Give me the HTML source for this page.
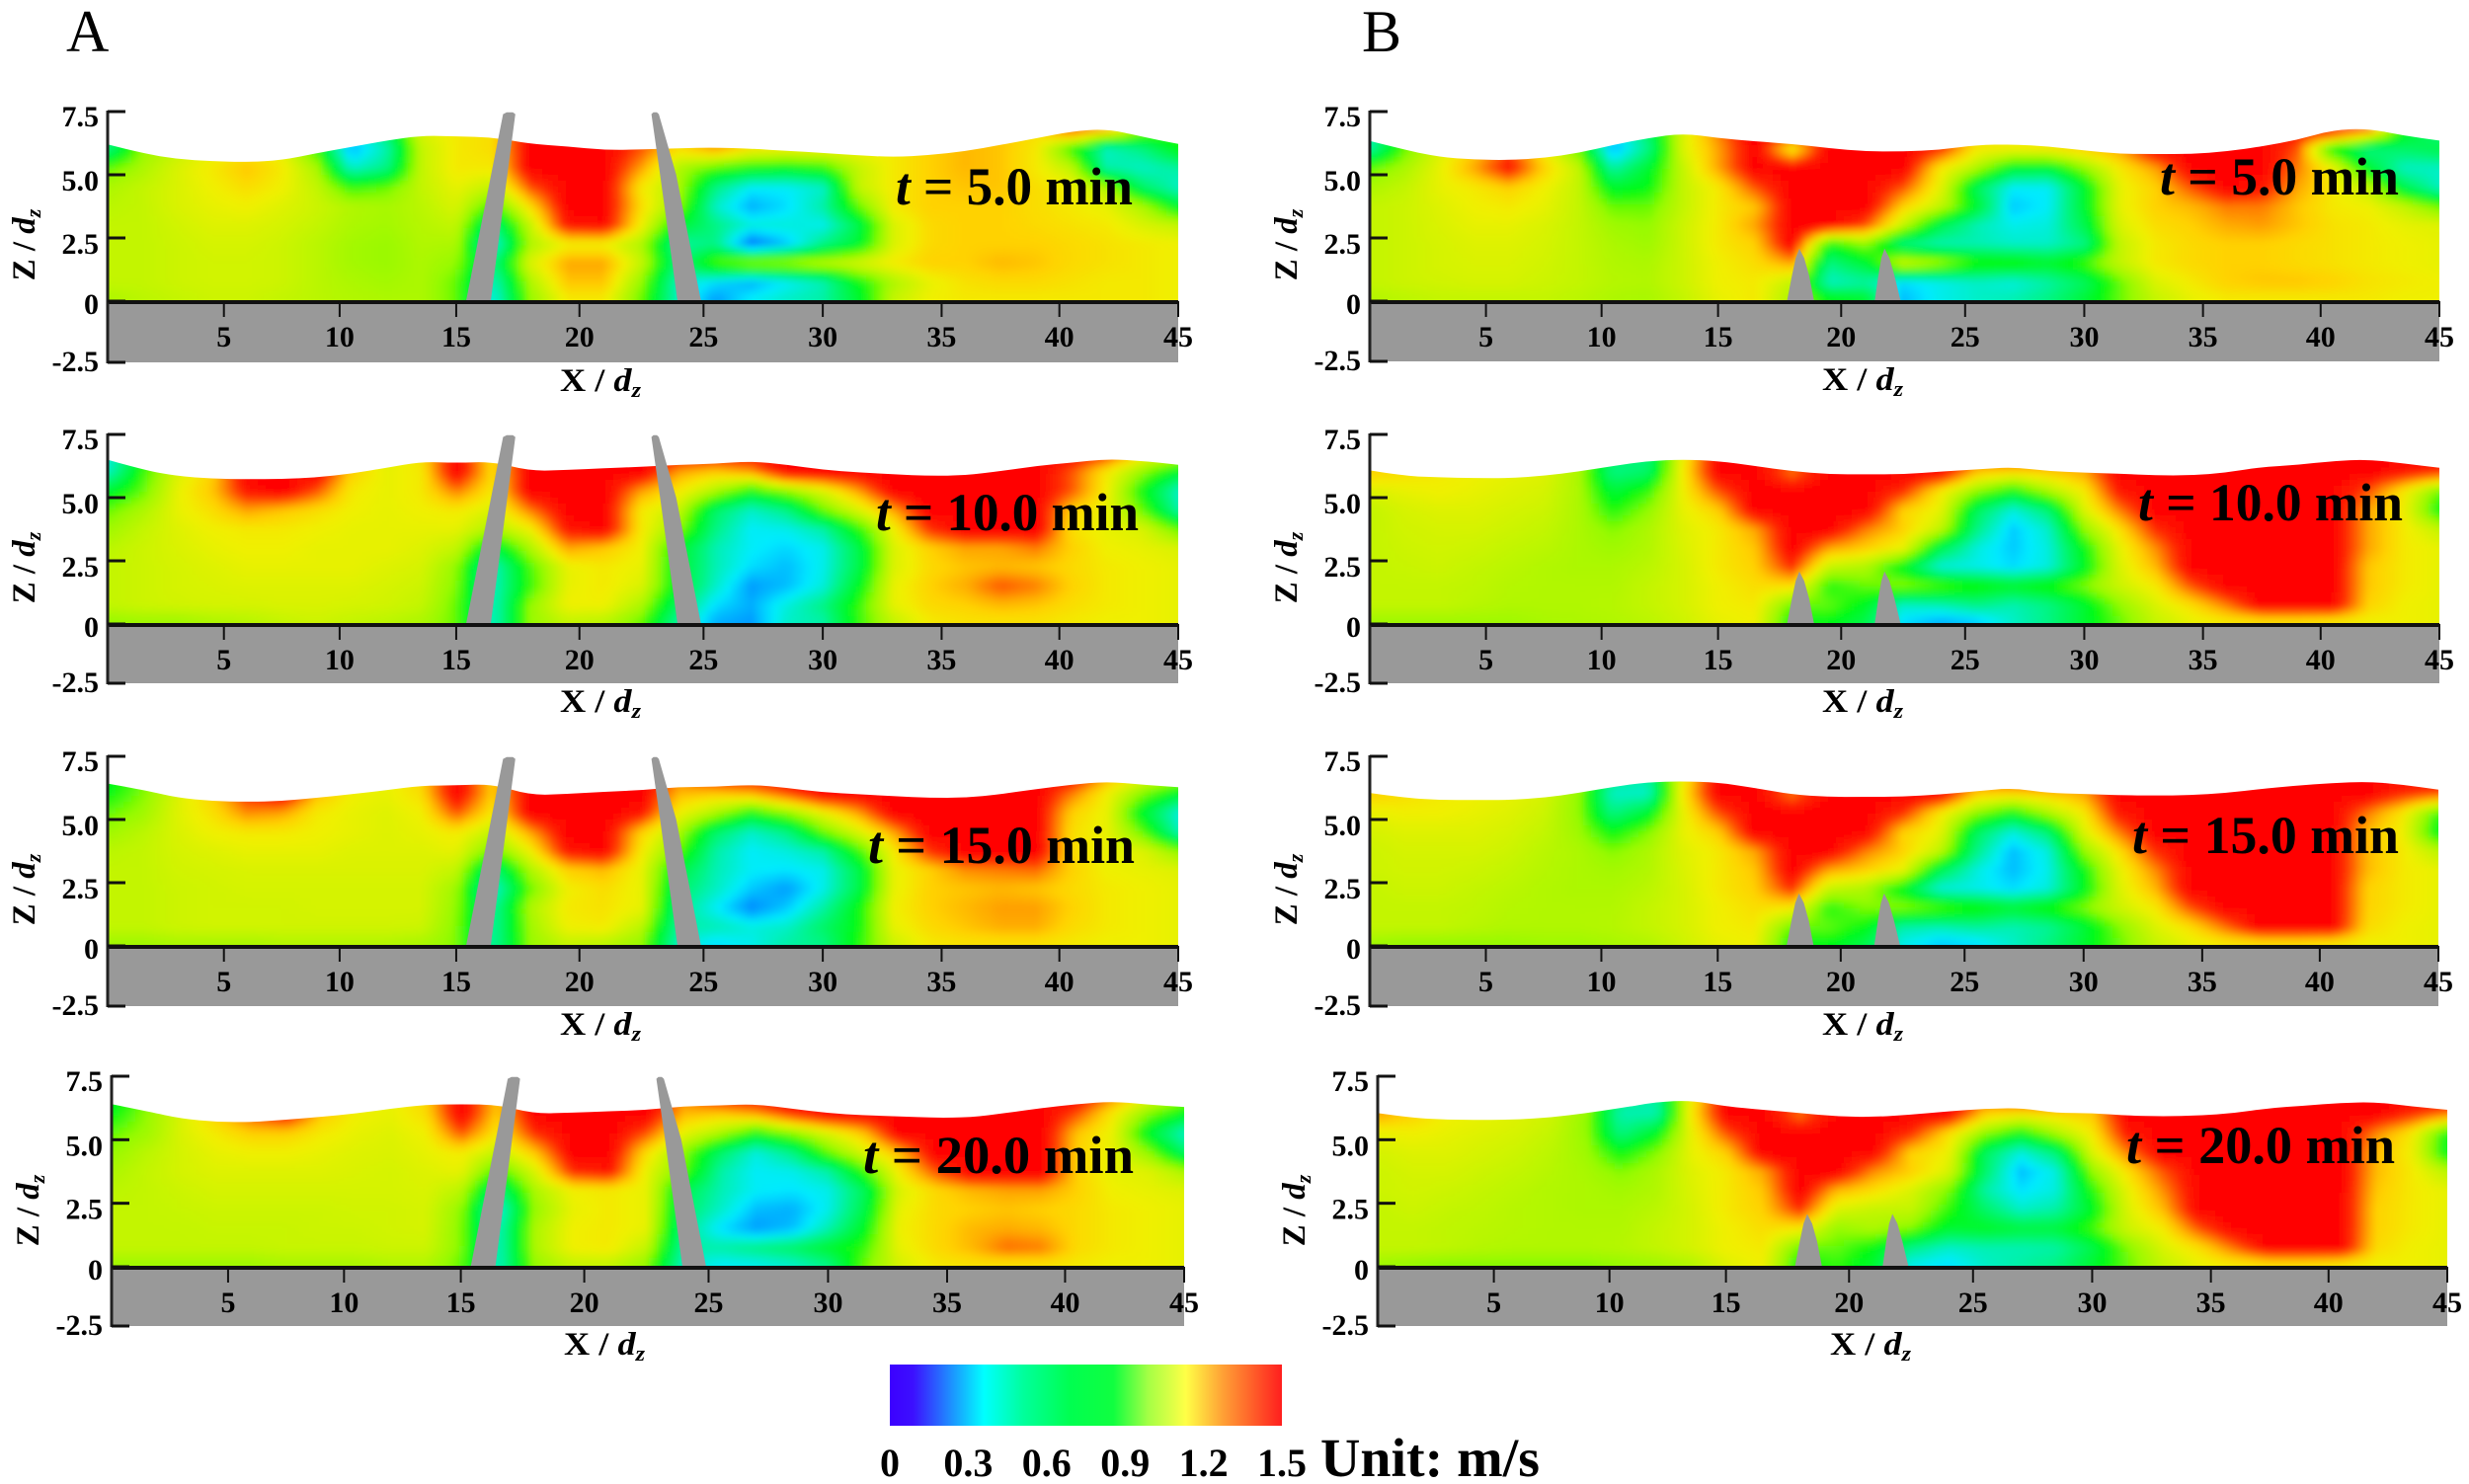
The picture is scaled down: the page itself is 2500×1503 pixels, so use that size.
<!DOCTYPE html>
<html lang="en">
<head>
<meta charset="utf-8">
<title>Velocity field panels</title>
<style>
html,body{margin:0;padding:0;background:#fff;}
svg{display:block;}
text{font-family:"Liberation Serif",serif;fill:#000;}
.tick{font-weight:bold;font-size:30px;}
.title{font-weight:bold;font-size:33px;}
</style>
</head>
<body>
<svg id="figure" xmlns="http://www.w3.org/2000/svg" width="2500" height="1503" viewBox="0 0 2500 1503">
<defs>
<linearGradient id="barGradient">
<stop offset="0" stop-color="#3c00ff"/><stop offset="0.06" stop-color="#3c10ff"/><stop offset="0.12" stop-color="#2a60ff"/><stop offset="0.24" stop-color="#00ffff"/><stop offset="0.34" stop-color="#00ff9c"/><stop offset="0.46" stop-color="#00ff50"/><stop offset="0.57" stop-color="#10ff40"/><stop offset="0.66" stop-color="#a6ff45"/><stop offset="0.755" stop-color="#ffff46"/><stop offset="0.85" stop-color="#ffa035"/><stop offset="1" stop-color="#ff1e1e"/>
</linearGradient>
<filter id="fieldBlur" x="-5%" y="-10%" width="110%" height="120%"><feGaussianBlur stdDeviation="3.5"/></filter>
</defs>
<text x="67" y="52" font-size="60">A</text>
<text x="1379" y="52" font-size="60">B</text>
<rect x="901" y="1382" width="397" height="62" fill="url(#barGradient)"/>
<text x="1337" y="1495" font-size="55" font-weight="bold" textLength="222" lengthAdjust="spacingAndGlyphs">Unit: m/s</text>
</svg>
<script>
const xColumns=[0,1.5,3,4.5,6,7.5,9,10.5,12,13.5,15,16.5,18,19.5,21,22.5,24,25.5,27,28.5,30,31.5,33,34.5,36,37.5,39,40.5,42,43.5,45];
const zRows=[6.75,6,5.25,4.5,3.75,3,2.25,1.5,0.75,0.1];
const xTickValues=[0,5,10,15,20,25,30,35,40,45];
const xTickFractions=[0,0.1086,0.2167,0.3256,0.4407,0.5566,0.668,0.779,0.889,1];
const zTickValues=[7.5,5,2.5,0,-2.5];
const zTickLabels=["7.5","5.0","2.5","0","-2.5"];
const barTickLabels=["0","0.3","0.6","0.9","1.2","1.5"];
const colorStopValues=[0,20,37,55,75,90,110,118,125,140,150];
const colorStopColors=[[0,0,255],[0,120,255],[0,235,255],[0,245,130],[0,250,20],[150,250,0],[240,240,0],[255,210,0],[255,165,0],[255,40,0],[255,0,0]];

const surfaceA1=[6.2,5.85,5.62,5.53,5.5,5.58,5.85,6.1,6.35,6.55,6.52,6.48,6.22,6.12,5.98,6,6.05,6.08,6.03,5.95,5.86,5.77,5.7,5.78,5.93,6.18,6.44,6.72,6.82,6.5,6.22];
const surfaceA2=[6.5,6.1,5.85,5.75,5.73,5.73,5.8,5.95,6.18,6.42,6.38,6.42,6.05,6.1,6.16,6.22,6.3,6.34,6.44,6.3,6.1,6,5.92,5.86,5.88,6.05,6.25,6.38,6.53,6.45,6.3];
const surfaceA3=[6.42,6.18,5.86,5.73,5.7,5.73,5.86,6,6.16,6.34,6.35,6.4,5.96,6.01,6.1,6.16,6.29,6.29,6.38,6.25,6.08,6,5.92,5.86,5.86,6,6.2,6.38,6.5,6.38,6.28];
const surfaceA4=[6.4,6.12,5.83,5.7,5.69,5.79,5.9,6.03,6.22,6.38,6.4,6.38,6.02,6.07,6.12,6.17,6.32,6.35,6.4,6.22,6.05,5.96,5.92,5.86,5.88,6.05,6.25,6.4,6.51,6.38,6.29];
const surfaceB1=[6.34,5.99,5.7,5.6,5.58,5.66,5.86,6.18,6.45,6.64,6.45,6.32,6.22,6.05,5.92,5.92,5.99,6.18,6.2,6.12,5.96,5.83,5.82,5.82,5.92,6.12,6.38,6.77,6.83,6.55,6.35];
const surfaceB2=[6.08,5.86,5.8,5.77,5.77,5.86,6.03,6.25,6.45,6.51,6.45,6.25,6.05,5.92,5.92,5.92,6.03,6.12,6.21,6.05,5.99,5.95,5.88,5.88,5.99,6.21,6.29,6.45,6.51,6.35,6.18];
const surfaceB3=[6.05,5.86,5.77,5.77,5.77,5.86,6.05,6.29,6.48,6.51,6.47,6.25,5.99,5.89,5.9,5.9,5.99,6.12,6.25,6.05,6.01,5.96,5.95,5.96,6.05,6.21,6.34,6.44,6.5,6.38,6.18];
const surfaceB4=[6.05,5.86,5.79,5.78,5.79,5.88,6.05,6.25,6.48,6.55,6.31,6.18,6.05,5.92,5.89,5.99,6.12,6.22,6.25,6.05,6.05,5.95,5.92,5.95,6.05,6.25,6.34,6.45,6.48,6.31,6.18];

const fieldA1=[
[55,90,100,110,112,105,85,40,60,105,112,115,150,150,150,130,115,130,120,112,110,110,112,118,120,120,115,135,120,90,80],
[55,90,100,108,112,108,80,28,48,100,112,115,150,150,150,135,115,125,112,110,110,110,112,118,122,120,112,80,45,55,75],
[85,95,105,112,120,112,95,45,55,100,112,112,150,150,150,125,95,82,75,72,78,100,112,118,122,120,112,100,50,45,50],
[95,100,105,110,115,110,100,80,85,100,108,100,135,150,150,112,95,55,38,38,45,100,112,118,120,120,115,110,95,60,45],
[98,100,105,108,110,106,102,96,94,98,105,80,115,150,150,115,90,45,28,35,50,85,112,118,118,118,115,112,108,95,70],
[100,100,103,106,106,104,100,95,93,97,100,55,100,145,148,110,70,55,42,42,40,65,105,116,118,118,116,114,112,105,100],
[100,100,102,104,104,102,98,93,91,96,95,40,95,110,110,95,50,55,18,32,55,70,105,116,118,118,118,116,114,112,110],
[100,100,102,103,103,102,98,93,91,95,90,55,105,125,125,100,55,85,95,95,100,105,112,118,118,122,120,116,114,112,110],
[100,100,102,103,103,102,98,95,93,95,85,45,95,120,120,90,45,35,28,38,48,75,95,108,114,116,116,114,112,112,110],
[95,98,100,102,102,100,98,96,95,95,85,40,90,112,112,85,45,25,38,45,50,70,100,110,112,112,112,112,112,112,110]];
const fieldA2=[
[40,70,100,115,150,150,150,120,105,115,150,115,150,150,150,150,150,150,150,150,150,150,150,150,150,150,150,150,140,115,105],
[45,80,105,118,150,150,150,118,108,112,150,115,150,150,150,150,125,118,125,150,150,150,150,150,150,150,150,135,112,90,70],
[70,85,108,120,145,150,135,112,108,112,130,112,150,150,150,125,112,95,75,90,105,125,150,150,150,150,150,135,110,75,45],
[85,95,108,115,125,120,115,110,108,110,112,105,130,150,150,112,100,60,45,55,85,105,125,150,150,150,150,118,108,85,50],
[92,100,106,110,112,112,110,108,108,108,108,95,110,145,150,112,90,55,38,40,50,78,110,140,150,150,150,115,108,105,85],
[98,102,105,108,110,110,108,108,108,106,100,65,95,125,120,110,72,48,38,34,40,65,105,118,125,125,130,118,110,108,105],
[100,102,104,106,108,108,108,108,106,104,90,45,82,108,112,108,70,48,35,30,40,65,105,116,120,122,120,116,112,110,108],
[100,102,104,105,106,106,106,106,104,102,88,45,80,108,112,105,70,45,25,30,42,72,108,118,124,135,130,118,112,110,108],
[100,102,103,104,104,105,105,104,103,100,85,45,90,110,110,95,60,35,28,42,55,80,108,116,118,122,120,115,112,110,108],
[90,92,92,95,97,100,102,100,98,95,85,45,90,100,98,85,50,28,25,45,50,80,100,112,114,114,114,112,110,110,108]];
const fieldA3=[
[70,85,100,112,135,150,125,110,108,118,150,118,150,150,150,150,130,150,150,150,150,150,150,150,150,150,150,150,125,110,100],
[75,88,105,118,140,150,122,110,108,115,150,118,150,150,150,150,122,118,122,135,150,150,150,150,150,150,150,130,110,88,70],
[85,92,106,114,128,125,112,108,106,110,135,112,150,150,150,145,110,95,75,90,108,125,150,150,150,150,150,118,108,70,42],
[92,98,105,110,112,112,110,108,106,108,112,100,125,150,150,118,95,60,45,55,85,105,125,150,150,150,150,115,108,85,48],
[98,100,104,106,108,108,108,106,106,106,108,85,110,145,150,112,85,50,38,42,50,80,112,140,150,150,150,116,108,106,90],
[100,100,103,104,105,105,105,105,105,105,100,55,95,118,122,108,68,48,38,36,40,65,108,118,128,130,132,118,110,108,106],
[100,100,102,103,104,104,104,104,104,104,92,42,85,110,115,108,60,46,32,25,40,65,108,118,120,122,120,116,112,110,108],
[100,100,102,103,103,103,104,104,104,104,90,50,95,112,114,108,55,38,22,32,50,75,110,118,122,126,126,118,112,110,108],
[100,100,102,103,103,103,103,103,103,102,88,50,92,110,112,98,50,48,42,45,60,75,108,116,120,124,124,116,112,110,108],
[92,92,94,94,94,96,96,96,96,94,88,50,90,100,98,90,45,35,40,50,55,78,102,112,114,114,114,112,110,110,108]];
const fieldA4=[
[70,85,100,115,130,150,130,110,108,118,150,120,150,150,150,150,130,150,150,150,150,150,150,150,150,150,150,150,130,110,95],
[75,90,105,118,135,145,120,110,108,115,150,118,150,150,150,150,122,118,125,140,150,150,150,150,150,150,150,135,112,88,72],
[85,92,105,112,118,118,112,108,106,110,135,112,140,150,150,135,108,95,75,90,105,120,150,150,150,150,150,120,108,70,45],
[90,98,104,108,110,110,108,106,105,108,112,100,120,150,150,115,90,60,42,55,85,105,122,150,150,150,150,118,108,90,60],
[95,100,104,106,106,106,106,105,104,106,108,80,105,140,145,108,85,50,38,40,50,80,112,135,150,150,150,118,108,106,95],
[98,100,102,104,104,104,104,104,104,105,98,55,95,110,112,108,65,48,38,36,40,62,105,116,122,125,125,118,110,108,106],
[100,100,101,102,102,102,102,103,103,104,90,40,90,108,112,108,60,45,30,28,40,65,108,116,118,120,118,116,112,110,108],
[100,100,100,101,101,101,102,102,103,104,88,45,95,110,112,108,55,35,25,30,48,72,110,116,122,124,122,116,112,110,108],
[100,100,100,100,100,101,101,101,102,102,88,45,95,110,112,100,50,50,55,60,70,80,108,116,122,132,130,116,112,110,108],
[92,92,92,92,92,94,94,94,96,96,85,45,90,100,100,90,45,38,40,45,55,85,104,112,114,114,114,112,110,110,108]];
const fieldB1=[
[45,85,105,112,118,108,90,35,60,105,130,150,150,150,150,150,140,115,112,112,115,118,135,150,150,150,145,150,130,75,55],
[50,85,105,118,135,112,85,28,55,105,125,150,110,150,150,150,140,112,110,112,118,125,150,150,150,150,135,75,55,60,65],
[85,95,108,125,145,118,100,50,70,100,125,150,150,150,150,150,112,95,70,68,90,112,125,150,150,150,130,110,70,45,45],
[95,100,108,112,118,110,100,70,75,100,112,135,150,150,150,135,108,62,38,38,70,108,118,135,150,145,125,112,100,65,45],
[100,102,106,110,112,108,100,85,85,100,112,120,150,150,150,118,100,70,32,38,70,108,118,122,130,130,120,112,110,100,85],
[100,102,105,108,108,105,100,92,90,102,112,125,150,150,135,100,65,48,40,42,65,105,115,118,124,126,120,114,112,108,106],
[100,102,104,106,106,104,100,95,92,102,112,118,150,75,90,55,48,48,45,45,55,100,112,116,118,118,116,114,112,110,108],
[100,102,104,105,105,103,100,96,95,102,110,115,125,55,70,105,95,80,78,72,82,100,112,116,118,118,116,114,112,110,108],
[100,102,103,104,104,102,100,97,96,102,110,112,100,45,50,35,40,45,42,50,62,85,105,112,118,120,120,118,114,112,110],
[96,98,100,100,100,100,98,95,94,100,108,112,95,75,70,30,40,45,48,55,68,85,100,108,112,112,112,112,112,110,110]];
const fieldB2=[
[118,112,110,110,108,106,100,60,55,110,150,150,150,150,150,150,150,135,150,140,115,150,150,150,150,150,150,150,150,150,150],
[118,115,112,110,108,106,95,55,60,112,150,150,130,150,150,150,150,120,115,118,125,150,150,150,150,150,150,150,150,145,140],
[105,108,110,108,106,104,95,68,80,110,135,150,150,150,150,140,112,90,75,95,112,145,150,150,150,150,150,150,135,112,85],
[100,104,106,106,104,102,95,78,90,108,118,150,150,150,150,118,108,62,42,58,105,130,150,150,150,150,150,150,125,110,75],
[100,103,104,104,102,100,95,88,95,106,112,125,150,150,130,118,100,55,32,45,90,115,140,150,150,150,150,150,125,112,100],
[100,102,103,102,100,98,95,92,96,105,112,120,150,125,118,108,65,42,32,42,75,108,128,150,150,150,150,150,125,112,108],
[100,101,102,100,98,96,95,95,98,104,112,118,140,100,95,72,42,40,35,42,72,105,122,150,150,150,150,150,120,112,108],
[100,100,100,99,97,96,96,96,100,104,110,115,115,78,85,90,85,78,72,78,88,102,112,135,150,150,150,150,120,112,108],
[100,100,100,98,96,96,96,97,100,104,110,112,85,85,72,45,48,55,48,55,70,90,105,115,130,150,150,150,118,110,108],
[92,92,92,92,92,94,95,96,98,102,108,110,75,75,65,35,28,32,45,55,70,85,100,108,112,114,114,112,110,110,108]];
const fieldB3=[
[118,112,110,110,108,106,100,55,50,110,150,150,150,150,150,150,150,135,150,150,120,150,150,150,150,150,150,150,150,150,150],
[118,115,112,110,108,104,90,45,45,112,150,150,130,150,150,150,150,118,115,118,125,150,150,150,150,150,150,150,150,140,135],
[108,110,110,108,106,102,90,55,70,108,135,150,150,150,150,140,112,90,75,95,112,145,150,150,150,150,150,150,130,112,80],
[104,106,106,106,104,100,92,75,88,108,118,150,150,150,150,118,108,62,42,58,105,130,150,150,150,150,150,150,122,110,72],
[102,104,104,104,102,98,95,88,95,106,112,125,150,150,130,118,100,55,30,42,90,115,140,150,150,150,150,150,122,112,98],
[102,103,103,102,100,97,95,93,96,105,112,120,150,125,118,108,65,42,30,40,75,108,128,150,150,150,150,150,122,112,108],
[100,102,102,100,98,96,95,95,98,104,112,118,140,100,95,72,42,40,35,42,72,105,122,150,150,150,150,150,118,112,108],
[100,100,100,99,97,96,96,96,100,104,110,115,112,78,88,90,85,78,70,78,88,102,112,135,150,150,150,150,118,112,108],
[100,100,100,98,96,96,96,97,100,104,110,112,85,85,75,50,48,52,48,52,68,88,105,115,132,150,150,150,116,110,108],
[92,90,90,90,90,92,92,94,96,102,108,110,75,75,65,40,32,35,45,55,70,85,100,108,112,114,114,112,110,110,108]];
const fieldB4=[
[125,115,110,108,106,104,100,55,50,110,150,150,150,150,150,150,150,135,150,150,115,150,150,150,150,150,150,150,150,150,150],
[125,118,110,108,106,102,90,48,48,112,150,150,130,150,150,150,150,118,112,115,120,150,150,150,150,150,150,150,150,140,130],
[108,110,108,106,104,100,90,55,72,108,135,150,150,150,150,140,115,90,75,95,112,145,150,150,150,150,150,150,128,112,75],
[104,106,106,104,102,98,92,75,88,108,118,150,150,150,148,118,110,62,42,58,105,130,150,150,150,150,150,150,122,110,72],
[102,104,104,102,100,97,94,88,95,106,112,125,150,150,128,118,105,60,30,42,90,115,135,150,150,150,150,150,122,112,98],
[102,103,102,100,98,96,95,93,96,105,112,120,150,122,115,105,88,50,36,42,78,108,128,150,150,150,150,150,120,112,108],
[100,102,100,99,97,96,95,95,98,104,112,118,140,105,100,100,80,60,45,50,72,105,122,150,150,150,150,150,118,112,108],
[100,100,99,98,97,96,96,96,100,104,110,115,112,90,95,88,70,72,68,68,82,102,112,135,150,150,150,150,118,112,108],
[100,100,99,97,96,96,96,97,100,104,110,112,85,85,75,55,45,48,48,50,65,88,105,115,132,150,150,150,116,110,108],
[92,90,88,88,88,88,88,90,92,96,106,110,75,80,70,40,35,45,50,55,70,85,100,108,112,114,114,112,110,110,108]];

const pierInclinedLeft=[[15.4,0],[16.9,7.4],[17.05,7.47],[17.3,7.47],[17.4,7.4],[16.4,0]];
const pierInclinedRight=[[22.9,7.4],[22.98,7.47],[23.12,7.47],[23.2,7.4],[23.9,5],[24.4,2.5],[24.9,0],[23.95,0],[23.6,2.5],[23.25,5]];
const pierShortLeft=[[17.8,0],[18,1],[18.15,1.7],[18.3,2.08],[18.5,1.7],[18.7,1],[18.9,0]];
const pierShortRight=[[21.35,0],[21.5,1],[21.62,1.7],[21.75,2.08],[21.95,1.7],[22.15,1],[22.4,0]];

const panels=[
{id:"a1",x0:109,x1:1193,y75:113,y0:305,yb:367,field:fieldA1,surface:surfaceA1,piers:[pierInclinedLeft,pierInclinedRight],time:"5.0",tx:907,tw:240,ty:207},
{id:"a2",x0:109,x1:1193,y75:440,y0:632,yb:692,field:fieldA2,surface:surfaceA2,piers:[pierInclinedLeft,pierInclinedRight],time:"10.0",tx:887,tw:266,ty:537},
{id:"a3",x0:109,x1:1193,y75:766,y0:958,yb:1019,field:fieldA3,surface:surfaceA3,piers:[pierInclinedLeft,pierInclinedRight],time:"15.0",tx:879,tw:270,ty:874},
{id:"a4",x0:113,x1:1199,y75:1090,y0:1283,yb:1343,field:fieldA4,surface:surfaceA4,piers:[pierInclinedLeft,pierInclinedRight],time:"20.0",tx:874,tw:274,ty:1188},
{id:"b1",x0:1387,x1:2470,y75:113,y0:305,yb:366,field:fieldB1,surface:surfaceB1,piers:[pierShortLeft,pierShortRight],time:"5.0",tx:2187,tw:242,ty:197},
{id:"b2",x0:1387,x1:2470,y75:440,y0:632,yb:692,field:fieldB2,surface:surfaceB2,piers:[pierShortLeft,pierShortRight],time:"10.0",tx:2165,tw:268,ty:527},
{id:"b3",x0:1387,x1:2469,y75:766,y0:958,yb:1019,field:fieldB3,surface:surfaceB3,piers:[pierShortLeft,pierShortRight],time:"15.0",tx:2159,tw:270,ty:864},
{id:"b4",x0:1395,x1:2478,y75:1090,y0:1283,yb:1343,field:fieldB4,surface:surfaceB4,piers:[pierShortLeft,pierShortRight],time:"20.0",tx:2153,tw:272,ty:1178}
];

const NS="http://www.w3.org/2000/svg";
const figure=document.getElementById("figure");
const labelNudge=[15,16,16,13,9];

function make(tag,attrs,parent){
  const el=document.createElementNS(NS,tag);
  for(const k in attrs){el.setAttribute(k,attrs[k]);}
  parent.appendChild(el);
  return el;
}
function xScale(p,x){
  let i=0;
  while(i<xTickValues.length-2&&x>xTickValues[i+1]){i++;}
  const t=(x-xTickValues[i])/(xTickValues[i+1]-xTickValues[i]);
  const f=xTickFractions[i]+t*(xTickFractions[i+1]-xTickFractions[i]);
  return p.x0+f*(p.x1-p.x0);
}
function xInvert(p,px){
  const f=(px-p.x0)/(p.x1-p.x0);
  let i=0;
  while(i<xTickFractions.length-2&&f>xTickFractions[i+1]){i++;}
  const t=(f-xTickFractions[i])/(xTickFractions[i+1]-xTickFractions[i]);
  return xTickValues[i]+t*(xTickValues[i+1]-xTickValues[i]);
}
function zScale(p,z){
  if(z<0){return p.y0+(-z/2.5)*(p.yb-p.y0);}
  return p.y0-z*(p.y0-p.y75)/7.5;
}
function zInvert(p,py){return (p.y0-py)*7.5/(p.y0-p.y75);}
function colorFor(v){
  let i=0;
  while(i<colorStopValues.length-2&&v>colorStopValues[i+1]){i++;}
  const t=Math.max(0,Math.min(1,(v-colorStopValues[i])/(colorStopValues[i+1]-colorStopValues[i])));
  const a=colorStopColors[i],b=colorStopColors[i+1];
  return "rgb("+Math.round(a[0]+t*(b[0]-a[0]))+","+Math.round(a[1]+t*(b[1]-a[1]))+","+Math.round(a[2]+t*(b[2]-a[2]))+")";
}
function sampleField(field,x,z){
  const cx=Math.max(0,Math.min(xColumns.length-1.001,x/(xColumns[1]-xColumns[0])));
  const ci=Math.floor(cx),ct=cx-ci;
  let r=0;
  if(z>=zRows[0]){r=0;}
  else if(z<=zRows[zRows.length-1]){r=zRows.length-1.001;}
  else{
    let k=0;
    while(z<zRows[k+1]){k++;}
    r=k+(zRows[k]-z)/(zRows[k]-zRows[k+1]);
  }
  const ri=Math.floor(r),rt=r-ri;
  const top=field[ri][ci]*(1-ct)+field[ri][ci+1]*ct;
  const bot=field[ri+1][ci]*(1-ct)+field[ri+1][ci+1]*ct;
  return top*(1-rt)+bot*rt;
}
function surfacePath(p){
  const q=xColumns.map(function(x,i){return [xScale(p,x),zScale(p,p.surface[i])];});
  let d="M"+p.x0+","+(p.y0+4)+"L"+q[0][0].toFixed(1)+","+q[0][1].toFixed(1);
  for(let i=1;i<q.length-1;i++){
    const mx=(q[i][0]+q[i+1][0])/2,my=(q[i][1]+q[i+1][1])/2;
    d+="Q"+q[i][0].toFixed(1)+","+q[i][1].toFixed(1)+" "+mx.toFixed(1)+","+my.toFixed(1);
  }
  d+="L"+q[q.length-1][0].toFixed(1)+","+q[q.length-1][1].toFixed(1)+"L"+p.x1+","+(p.y0+4)+"Z";
  return d;
}

const defs=figure.querySelector("defs");
panels.forEach(function(p){
  const panel=make("g",{},figure);
  
  

  const clip=make("clipPath",{id:"surface-"+p.id},defs);
  const clipShape=make("path",{d:surfacePath(p)},clip);
  
  

  const clipped=make("g",{"clip-path":"url(#surface-"+p.id+")"},panel);
  
  
  const blurred=make("g",{filter:"url(#fieldBlur)"},clipped);
  
  
  const cellW=8,cellH=6;
  for(let py=p.y75+16;py<p.y0+18;py+=cellH){
    for(let px=p.x0-16;px<p.x1+16;px+=cellW){
      const dx=Math.max(0,Math.min(45,xInvert(p,px+cellW/2)));
      const dz=zInvert(p,py+cellH/2);
      const v=sampleField(p.field,dx,dz);
      const cell=make("rect",{x:px,y:py,width:cellW+0.6,height:cellH+0.6,fill:colorFor(v)},blurred);
      
      
    }
  }

  const ground=make("rect",{x:p.x0,y:p.y0,width:p.x1-p.x0,height:p.yb-p.y0,fill:"#999999"},panel);
  
  

  p.piers.forEach(function(pier,i){
    const s=pier.map(function(q){return xScale(p,q[0]).toFixed(1)+","+zScale(p,q[1]).toFixed(1);}).join(" ");
    const shape=make("polygon",{points:s,fill:"#999999"},panel);
    
    
  });

  const bed=make("rect",{x:p.x0,y:p.y0-1,width:p.x1-p.x0,height:4,fill:"#111111"},panel);
  
  
  const yAxis=make("rect",{x:p.x0-1.5,y:p.y75-1,width:3,height:p.yb-p.y75+2,fill:"#222222"},panel);
  
  

  zTickValues.forEach(function(z,i){
    const y=zScale(p,z);
    const t=make("rect",{x:p.x0,y:y-1.5,width:18,height:3,fill:"#111111"},panel);
    
    
    const label=make("text",{x:p.x0-9,y:y+labelNudge[i],"text-anchor":"end",class:"tick"},panel);
    label.textContent=zTickLabels[i];
    
    
  });
  xTickValues.slice(1).forEach(function(x){
    const px=xScale(p,x);
    const t=make("rect",{x:px-1,y:p.y0,width:2,height:16,fill:"#111111"},panel);
    
    
    const label=make("text",{x:px,y:p.y0+46,"text-anchor":"middle",class:"tick"},panel);
    label.textContent=String(x);
    
    
  });

  const xt=make("text",{x:p.x0+499,y:p.yb+29,"text-anchor":"middle",class:"title",textLength:82,lengthAdjust:"spacingAndGlyphs"},panel);
  
  
  const xa=make("tspan",{},xt);
  xa.textContent="X / ";
  const xb=make("tspan",{"font-style":"italic"},xt);
  xb.textContent="d";
  const xc=make("tspan",{"font-style":"italic","font-size":"22","dy":"6"},xt);
  xc.textContent="z";

  const bx=p.x0-74,by=p.y0-57;
  const yt=make("text",{x:bx,y:by,"text-anchor":"middle",class:"title",transform:"rotate(-90 "+bx+" "+by+")"},panel);
  
  
  const ya=make("tspan",{},yt);
  ya.textContent="Z / ";
  const yb=make("tspan",{"font-style":"italic"},yt);
  yb.textContent="d";
  const yc=make("tspan",{"font-style":"italic","font-size":"22","dy":"6"},yt);
  yc.textContent="z";

  const tl=make("text",{x:p.tx,y:p.ty,"font-size":"54","font-weight":"bold",textLength:p.tw,lengthAdjust:"spacingAndGlyphs"},panel);
  
  
  const ti=make("tspan",{"font-style":"italic"},tl);
  ti.textContent="t";
  const tr=make("tspan",{},tl);
  tr.textContent=" = "+p.time+" min";
});

barTickLabels.forEach(function(txt,i){
  const px=901+i*(1298-901)/(barTickLabels.length-1);
  const label=make("text",{x:px,y:1495,"text-anchor":"middle","font-size":"40","font-weight":"bold"},figure);
  label.textContent=txt;
  
  
});
</script>
</body>
</html>
